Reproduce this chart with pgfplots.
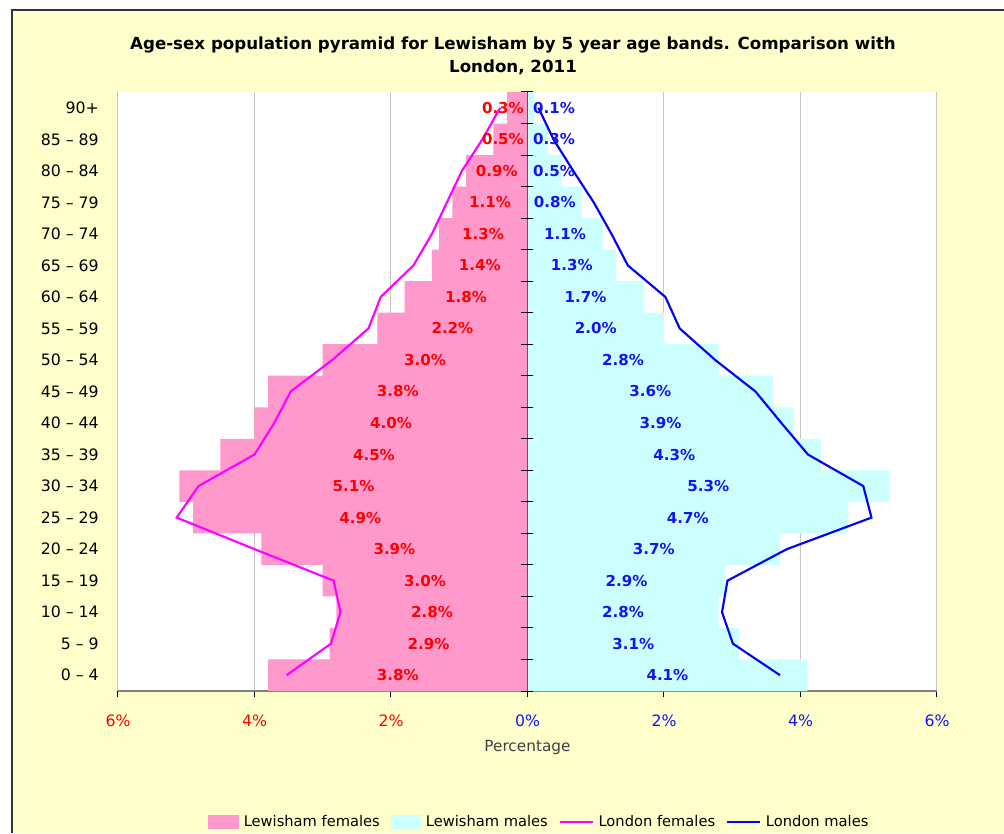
\documentclass[border=0pt]{standalone}
\usepackage{pgfplots}
\pgfplotsset{compat=1.18}
\usepackage{pgfplotstable}
\usepackage{fontspec}
\setmainfont{DejaVu Sans}
\definecolor{chartBg}{HTML}{FFFFCC}
\definecolor{femBar}{HTML}{FF99CC}
\definecolor{malBar}{HTML}{CCFFFF}
\definecolor{lonFem}{HTML}{FF00FF}
\definecolor{lonMal}{HTML}{0000FF}
\definecolor{labRed}{HTML}{FF0000}
\definecolor{labBlue}{HTML}{1414F0}

% idx: age band (0 = 0-4 ... 18 = 90+); lf/lm Lewisham females/males, gf/gm London females/males (%)
\pgfplotstableread{
idx lf  lm  gf   gm
0   3.8 4.1 3.53 3.70
1   2.9 3.1 2.88 3.01
2   2.8 2.8 2.74 2.85
3   3.0 2.9 2.84 2.93
4   3.9 3.7 4.00 3.80
5   4.9 4.7 5.14 5.04
6   5.1 5.3 4.82 4.92
7   4.5 4.3 4.00 4.11
8   4.0 3.9 3.71 3.72
9   3.8 3.6 3.47 3.34
10  3.0 2.8 2.86 2.75
11  2.2 2.0 2.33 2.23
12  1.8 1.7 2.15 2.02
13  1.4 1.3 1.67 1.47
14  1.3 1.1 1.40 1.23
15  1.1 0.8 1.18 0.97
16  0.9 0.5 0.96 0.67
17  0.5 0.3 0.66 0.38
18  0.3 0.1 0.40 0.16
}\pyramid

\begin{document}
\begin{tikzpicture}
% chart area (cropped Excel frame)
\fill[white] (-88.5pt,-106.5pt) rectangle (664.5pt,518.25pt);
\fill[chartBg] (-79.5pt,-106.5pt) rectangle (664.5pt,510.75pt);
\draw[line width=1.5pt, black!80] (-79.5pt,-106.5pt) -- (-79.5pt,510.75pt) -- (664.5pt,510.75pt);

\node[align=center, font=\fontsize{12.5pt}{17.25pt}\selectfont\bfseries] at (296.25pt,476pt)
  {Age-sex population pyramid for Lewisham by 5 year age bands. Comparison with\\London, 2011};

\begin{axis}[
    width=614.25pt, height=449.25pt, scale only axis,
    axis background/.style={fill=white},
    xmin=-6, xmax=6, ymin=-0.5, ymax=18.5,
    separate axis lines,
    axis x line*=bottom, axis y line*=left,
    x axis line style={-, draw=gray, line width=1pt},
    y axis line style={draw=none},
    xtick={-6,-4,-2,0,2,4,6},
    xticklabels={\textcolor{labRed}{6\%},\textcolor{labRed}{4\%},\textcolor{labRed}{2\%},
                 \textcolor{labBlue}{0\%},\textcolor{labBlue}{2\%},\textcolor{labBlue}{4\%},\textcolor{labBlue}{6\%}},
    xtick style={black, line width=0.75pt},
    x tick label style={anchor=center, yshift=-18pt},
    tick align=outside, major tick length=4.5pt,
    ytick={0,...,18},
    yticklabels={0 – 4,5 – 9,10 – 14,15 – 19,20 – 24,25 – 29,30 – 34,35 – 39,40 – 44,
                 45 – 49,50 – 54,55 – 59,60 – 64,65 – 69,70 – 74,75 – 79,80 – 84,85 – 89,90+},
    ytick style={draw=none},
    y tick label style={anchor=east, inner sep=0pt, xshift=-9.75pt},
    tick label style={font=\fontsize{11.8pt}{13pt}\selectfont},
    xmajorgrids, grid style={gray!45, line width=0.75pt},
    xlabel={Percentage},
    x label style={at={(axis description cs:0.5,0)}, anchor=center, yshift=-42.5pt,
                   font=\fontsize{11.5pt}{13pt}\selectfont, text=black!75},
    /pgf/number format/assume math mode=true,
    legend columns=4,
    legend style={at={(0.515,-0.2187)}, anchor=center, draw=none, fill=none,
                  font=\fontsize{11pt}{13pt}\selectfont,
                  /tikz/every odd column/.append style={column sep=1.5pt},
                  /tikz/every even column/.append style={column sep=6pt}},
]
\addplot[xbar, bar width=1, bar shift=0pt, fill=femBar, draw=none,
         legend image code/.code={\fill[femBar] (0pt,-5pt) rectangle (23pt,5pt);}]
  table[x expr=-\thisrow{lf}, y=idx] {\pyramid};
\addlegendentry{Lewisham females}
\addplot[xbar, bar width=1, bar shift=0pt, fill=malBar, draw=none,
         legend image code/.code={\fill[malBar] (0pt,-5pt) rectangle (23pt,5pt);}]
  table[x=lm, y=idx] {\pyramid};
\addlegendentry{Lewisham males}

% zero axis with ticks between age bands
\addplot[forget plot, black!65, line width=1.2pt] coordinates {(0,-0.5) (0,18.5)};
\addplot[forget plot, only marks, mark=-, mark size=4.5pt, mark options={black, line width=0.75pt}]
  coordinates {(0,-0.5) (0,0.5) (0,1.5) (0,2.5) (0,3.5) (0,4.5) (0,5.5) (0,6.5) (0,7.5) (0,8.5)
               (0,9.5) (0,10.5) (0,11.5) (0,12.5) (0,13.5) (0,14.5) (0,15.5) (0,16.5) (0,17.5) (0,18.5)};

\addplot[lonFem, line width=1.6pt, sharp plot, no marks,
         legend image code/.code={\draw[lonFem, line width=1.6pt] (0pt,0pt) -- (25pt,0pt);}]
  table[x expr=-\thisrow{gf}, y=idx] {\pyramid};
\addlegendentry{London females}
\addplot[lonMal, line width=1.6pt, sharp plot, no marks,
         legend image code/.code={\draw[lonMal, line width=1.6pt] (0pt,0pt) -- (25pt,0pt);}]
  table[x=gm, y=idx] {\pyramid};
\addlegendentry{London males}

% data labels centred in the bars
\addplot[forget plot, only marks, mark=*, mark size=0pt, mark options={draw=none, fill=none},
         point meta=explicit,
         nodes near coords={\pgfmathprintnumber[fixed, fixed zerofill, precision=1]{\pgfplotspointmeta}\%},
         every node near coord/.append style={anchor=center, text=labRed,
             font=\fontsize{11.3pt}{13pt}\selectfont\bfseries}]
  table[x expr={-max(\thisrow{lf}/2,0.36)}, y=idx, meta=lf] {\pyramid};
\addplot[forget plot, only marks, mark=*, mark size=0pt, mark options={draw=none, fill=none},
         point meta=explicit,
         nodes near coords={\pgfmathprintnumber[fixed, fixed zerofill, precision=1]{\pgfplotspointmeta}\%},
         every node near coord/.append style={anchor=center, text=labBlue,
             font=\fontsize{11.3pt}{13pt}\selectfont\bfseries}]
  table[x expr={max(\thisrow{lm}/2,0.39)}, y=idx, meta=lm] {\pyramid};
\end{axis}
\pgfresetboundingbox
\useasboundingbox (-88.5pt,-106.5pt) rectangle (664.5pt,518.25pt);
\end{tikzpicture}
\end{document}
